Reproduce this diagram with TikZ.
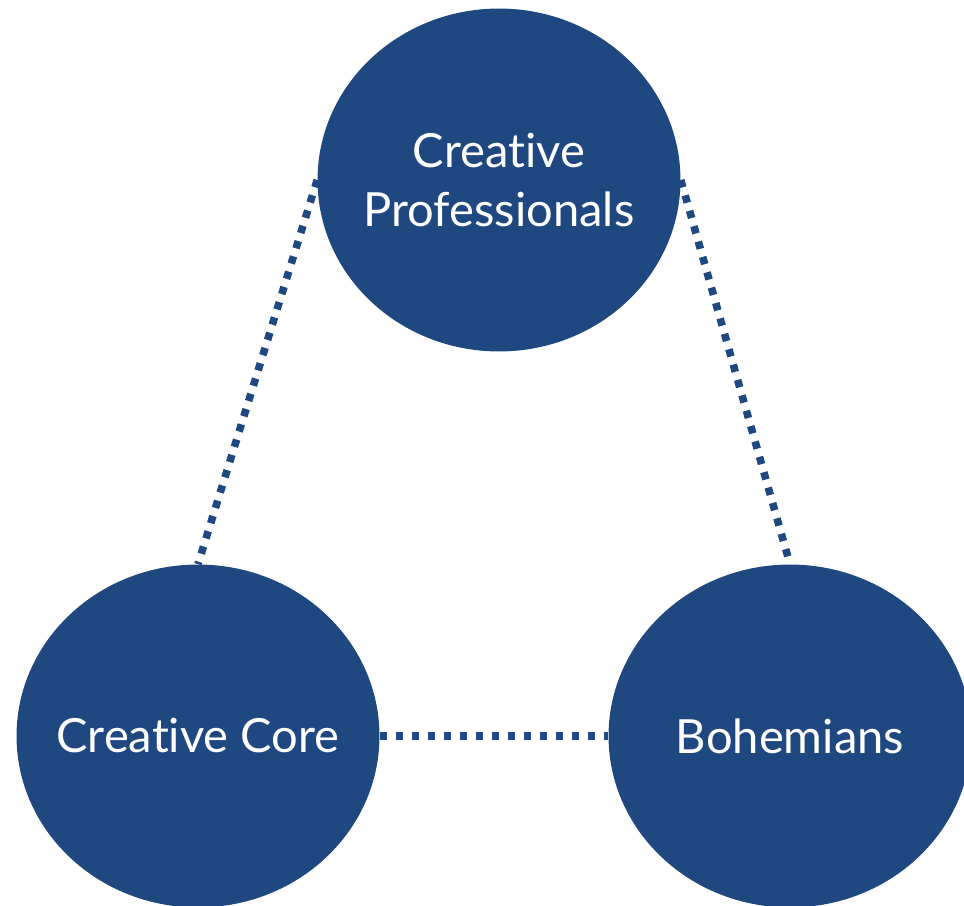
\documentclass[tikz,border=0pt]{standalone}
\usepackage{fontspec}
\setmainfont{Lato}[Ligatures={CommonOff}]
\definecolor{blue1}{RGB}{31, 71, 128}
\usepackage{tikz}
\usetikzlibrary{shapes.geometric, positioning}

\begin{document}
\begin{tikzpicture}[x=0.02cm, y=-0.02cm,
    group/.style={ellipse, fill=blue1, text=white, minimum width=7.26cm, minimum height=6.86cm,
      inner xsep=-1cm, inner ysep=0pt, align=center, font=\fontsize{26.8}{34}\selectfont},
    link/.style={draw=blue1, line width=4.3pt, dash pattern=on 4.3pt off 4.8pt}]
  \useasboundingbox (0,0) rectangle (964,906);
  \clip (0,0) rectangle (964,906);
  \node[group] (prof) at (499,180) {Creative\\Professionals};
  \node[group] (core) at (198,736) {Creative Core};
  \node[group] (boho) at (790,736) {Bohemians};
  \draw[link] (prof.west) -- (core.north);
  \draw[link] (prof.east) -- (boho.north);
  \draw[link] (core.east) -- (boho.west);
\end{tikzpicture}
\end{document}
